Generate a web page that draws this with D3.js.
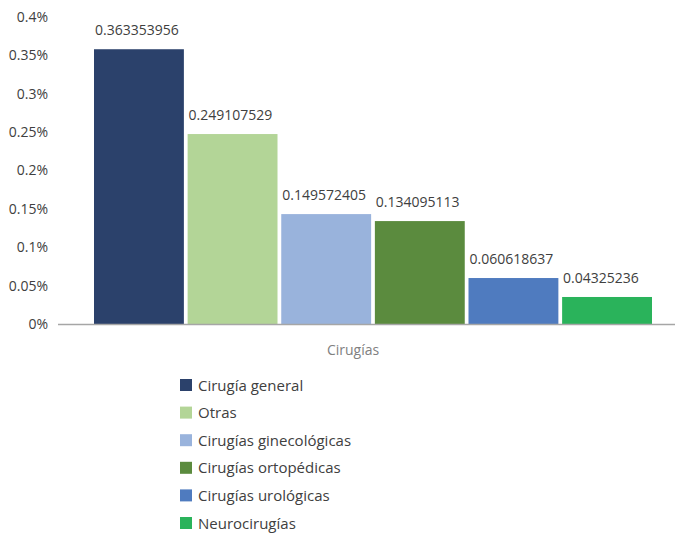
<!DOCTYPE html>
<html><head><meta charset="utf-8">
<script src="https://cdn.jsdelivr.net/npm/d3@7"></script>
<style>body{margin:0;background:#fff;} text{font-family:"Open Sans",sans-serif;}</style>
</head><body>
<svg id="c" width="676" height="533"></svg>
<script>
const categories = ["Cirugía general","Otras","Cirugías ginecológicas","Cirugías ortopédicas","Cirugías urológicas","Neurocirugías"];
const values = [0.358, 0.2475, 0.1432, 0.1341, 0.0599, 0.0352];
const labels = ["0.363353956","0.249107529","0.149572405","0.134095113","0.060618637","0.04325236"];
const colors = ["#2b416b","#b3d597","#99b3dc","#5b8b3e","#4f7bbf","#2ab35b"];
const yTicks = [0,0.05,0.1,0.15,0.2,0.25,0.3,0.35,0.4];
const tickLabels = ["0%","0.05%","0.1%","0.15%","0.2%","0.25%","0.3%","0.35%","0.4%"];
const axisTitle = "Cirugías";

const svg = d3.select("#c");
const y = d3.scaleLinear().domain([0,0.4]).range([324,17]);
const x = d3.scaleBand().domain(categories).range([94,652]).paddingInner(0.04);

// y axis labels
const ya = d3.axisLeft(y).tickValues(yTicks).tickFormat((d,i)=>tickLabels[i]).tickSize(0).tickPadding(0);
const gy = svg.append("g").attr("transform","translate(48,0)").call(ya);
gy.select(".domain").remove();
gy.selectAll("text").attr("font-size",14).attr("fill","#404040").attr("font-family","Open Sans");

// bars
svg.selectAll("rect.bar").data(categories).enter().append("rect")
  .attr("x",d=>x(d)).attr("width",x.bandwidth())
  .attr("y",(d,i)=>y(values[i])).attr("height",(d,i)=>y(0)-y(values[i]))
  .attr("fill",(d,i)=>colors[i]);

// x axis line
svg.append("line").attr("x1",58).attr("x2",675).attr("y1",y(0)+0.5).attr("y2",y(0)+0.5)
  .attr("stroke","#a6a6a6").attr("stroke-width",1.5);

// data labels
svg.selectAll("text.lbl").data(categories).enter().append("text")
  .attr("x",d=>x(d)+1).attr("y",(d,i)=>y(values[i])-14)
  .attr("font-size",14).attr("fill","#404040").text((d,i)=>labels[i]);

// axis title
svg.append("text").attr("x",353).attr("y",355).attr("text-anchor","middle")
  .attr("font-size",14).attr("fill","#808080").text(axisTitle);

// legend
const lg = svg.append("g");
categories.forEach((c,i)=>{
  const yy = 385 + i*27.6;
  lg.append("rect").attr("x",180).attr("y",yy-6).attr("width",12).attr("height",12).attr("fill",colors[i]);
  lg.append("text").attr("x",198).attr("y",yy+5.5).attr("font-size",15).attr("fill","#404040").text(c);
});
</script>
</body></html>
